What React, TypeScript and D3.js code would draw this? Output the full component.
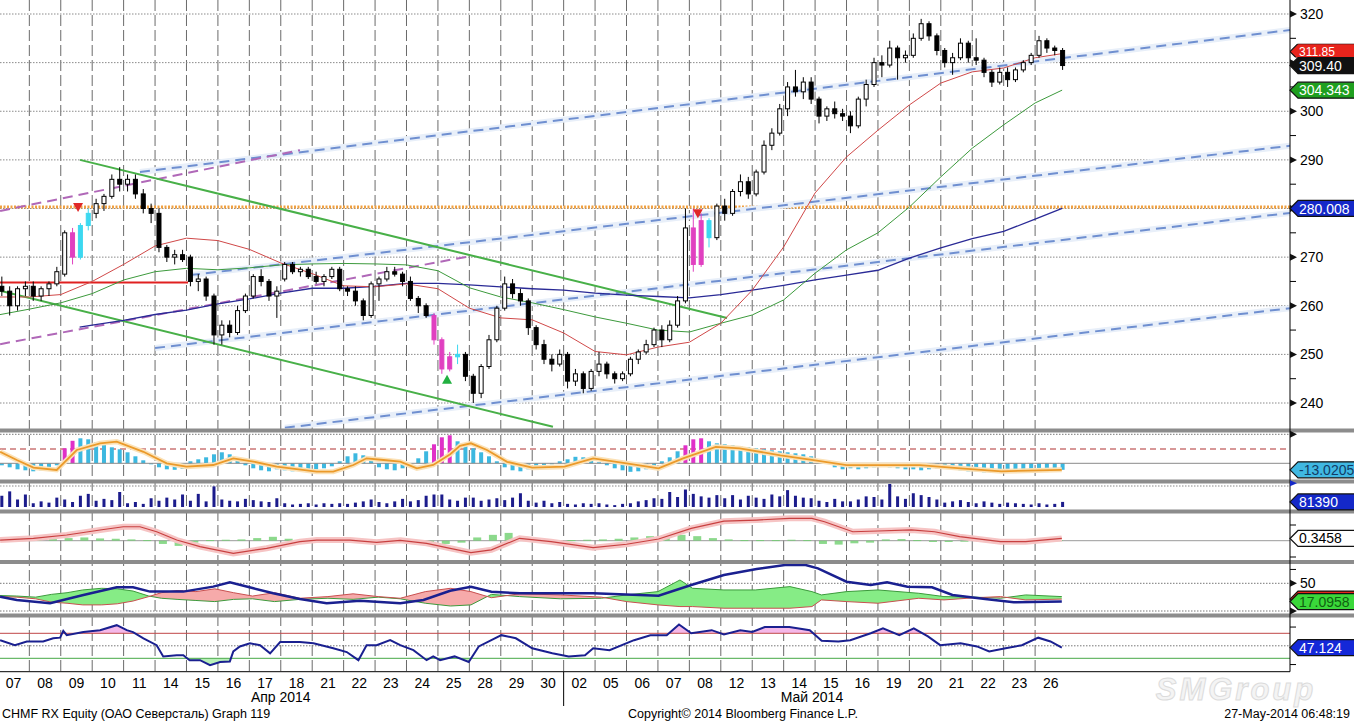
import React from "react";
import * as d3 from "d3";

const W = 1354;
const H = 723;
const AXIS_X = 1290;

// sessions on the x axis (one per trading day)
const dayLabels = ["07", "08", "09", "10", "11", "14", "15", "16", "17", "18", "21", "22", "23", "24", "25", "28", "29", "30",
  "02", "05", "06", "07", "08", "12", "13", "14", "15", "16", "19", "20", "21", "22", "23", "26"];
const monthLabels: [number, string][] = [[9, "Апр 2014"], [25.9, "Май 2014"]];
const monthBreak = 18;

// price candles, 4 per session: [open, high, low, close]
const candles: [number, number, number, number][] = [
  [264, 266, 262, 263], [263, 264, 258, 260], [260, 264, 259, 263.5], [263.5, 265, 262, 264],
  [264, 265, 261, 262], [262, 264, 261, 263.5], [263.5, 265, 262, 264.5], [264.5, 268, 264, 267],
  [266.5, 275.5, 266, 275], [275, 276, 268.5, 270], [270, 277, 269.5, 276.5], [276.5, 280, 275.5, 279],
  [279, 282, 278, 281], [281, 283, 279.5, 282.5], [282.5, 287, 282, 286], [286, 288.5, 283.5, 285],
  [285, 287, 283.5, 286], [286, 287, 282, 283], [283, 284, 279, 280], [280, 281, 277, 279],
  [279, 280, 271, 272], [272, 272.5, 269, 270], [270, 271.5, 268.5, 270.5], [270.5, 271.5, 269, 269.5],
  [270, 270.5, 264, 265], [265, 266.5, 263, 265.5], [265.5, 266, 261, 262], [262, 262.5, 252, 254],
  [254, 257, 252, 256], [256, 257, 253.5, 254.5], [254.5, 260, 254, 259], [259, 262.5, 258.5, 262],
  [262, 266.5, 261.5, 266], [266, 267.5, 264, 265], [265, 265.5, 261, 262], [262, 264, 257.5, 263],
  [265.5, 269, 265, 268.5], [268.5, 269, 266.5, 267], [267, 268, 266, 267.5], [267.5, 268, 265.5, 266],
  [266, 267, 264.5, 265], [265, 266.5, 264, 266], [266, 268, 265.5, 267.5], [267.5, 268, 263, 263.5],
  [263.5, 264, 262, 263], [263, 264, 260, 261], [261, 261.5, 257, 258], [258, 265, 257.5, 264.5],
  [264.5, 266, 261, 265.5], [265.5, 268, 265, 267], [267, 268, 266, 266.5], [266.5, 267, 264, 265],
  [265, 266, 261, 261.5], [261.5, 262, 258.5, 260], [260, 260.5, 257.5, 258], [258, 258.5, 252, 253],
  [253, 253.5, 246, 247], [247, 250.5, 246.5, 249.5], [249.5, 252, 248, 250], [250, 250.5, 244.5, 245.5],
  [245.5, 246, 240, 242], [242, 248, 241, 247.5], [247.5, 254, 247, 253], [253, 260, 252.5, 259.5],
  [259.5, 266, 259, 264.5], [264.5, 265.5, 261.5, 262.5], [262.5, 263.5, 260, 261], [261, 261.5, 254, 255.5],
  [255.5, 256, 251, 252], [252, 253, 248, 249], [249, 250, 246.5, 248], [248, 251, 247.5, 250],
  [250, 250.5, 243, 244.5], [244.5, 247, 243.5, 246], [246, 246.5, 242, 243], [243, 247, 242.5, 246.5],
  [246.5, 250.5, 245.5, 248], [248, 248.5, 245, 246], [246, 246.5, 244, 245], [245, 246.5, 244.5, 246],
  [246, 249.5, 245.5, 249], [249, 251, 248, 250.5], [250.5, 253, 250, 252], [252, 255.5, 251.5, 255],
  [255, 256, 251.5, 253], [253, 257, 252.5, 256], [256, 262, 255.5, 261], [261, 280, 260.5, 276],
  [276, 280, 267, 268.5], [268.5, 279, 268, 277.5], [277.5, 278, 272, 274], [274, 281, 273.5, 280.5],
  [280.5, 282, 277.5, 279], [279, 284, 278.5, 283.5], [283.5, 287, 282.5, 285.5], [285.5, 286.5, 282, 283],
  [283, 288, 282.5, 287.5], [287.5, 294, 287, 293], [293, 296.5, 292, 295.5], [295.5, 301.5, 295, 300.5],
  [300.5, 306, 299, 305], [305, 308.5, 303, 304], [304, 307, 302.5, 306], [306, 307, 301.5, 302.5],
  [302.5, 303, 297.5, 299], [299, 301, 298, 300.5], [300.5, 302, 298.5, 299.5], [299.5, 300.5, 298, 299],
  [299, 300, 295.5, 297], [297, 303, 296.5, 302.5], [302.5, 306.5, 301, 305.5], [305.5, 311, 305, 310],
  [310, 311.5, 307, 309.5], [309.5, 314.5, 309, 313], [313, 313.5, 306.5, 311], [311, 312.5, 310, 311.5],
  [311.5, 316, 311, 315], [315, 319, 314.5, 318], [318, 318.5, 314.5, 315.5], [315.5, 316, 311.5, 312.5],
  [312.5, 313, 309, 310], [310, 312, 307.5, 311], [311, 315, 310.5, 314], [314, 314.5, 310, 311],
  [311, 315, 309.5, 310.5], [310.5, 311, 307, 308], [308, 308.5, 305, 306], [306, 309, 305.5, 308],
  [308, 309, 305, 306.5], [306.5, 309, 306, 308.5], [308.5, 310.5, 308, 310], [310, 312, 309.5, 311.5],
  [311.5, 315.5, 311, 314.5], [314.5, 315, 312, 313], [313, 313.5, 311.5, 312.5], [312.5, 313, 308.5, 309.4],
];
const PER_DAY = 4;
const pinkCandles = [9, 55, 56, 57, 88, 89];
const cyanCandles = [10, 11, 58, 90];

// moving averages, [session position, price]
const maRed: [number, number][] = [[0, 261.8], [1, 261.8], [2, 262.3], [3, 265], [4, 268.5], [5, 272.3], [6, 273.9], [7, 273.4],
  [8, 271.6], [9, 268.8], [10, 266.6], [11, 264.1], [12, 263.9], [13, 264.5], [14, 263.5], [15, 259.5], [16, 257.5],
  [17, 257.1], [18, 254.4], [19, 250.6], [20, 249.9], [21, 251.5], [22, 252.5], [23, 256.4], [24, 263.2], [25, 272.1],
  [26, 283.2], [27, 290.6], [28, 296.1], [29, 301.3], [30, 305.8], [31, 308.1], [32, 308.9], [33, 311], [33.86, 311.85]];
const maGreen: [number, number][] = [[0, 258.1], [1, 259.3], [2, 260.6], [3, 262.5], [4, 265.3], [5, 267], [6, 267.7], [7, 267.4],
  [8, 267.8], [9, 268.4], [10, 268.6], [11, 268.7], [12, 268.6], [13, 268.4], [14, 267.2], [15, 263.7], [16, 261.8],
  [17, 260.6], [18, 259.2], [19, 257.7], [20, 256.4], [21, 255], [22, 254.6], [23, 256.4], [24, 258.1], [25, 261.2],
  [26, 266.7], [27, 271.5], [28, 275], [29, 280.3], [30, 286.5], [31, 292.4], [32, 297.2], [33, 301.7], [33.86, 304.343]];
const maBlue: [number, number][] = [[2.6, 255.6], [3, 256], [4, 257], [5, 258.2], [6, 259.1], [7, 260.4], [8, 261.4], [9, 262.6],
  [10, 263.6], [11, 263.6], [12, 264], [13, 264.6], [14, 264.6], [15, 264.3], [16, 263.9], [17, 263.5], [18, 263.2],
  [19, 262.6], [20, 262.2], [21, 261.9], [22, 261.6], [23, 262.3], [24, 263.2], [25, 264.2], [26, 265.3], [27, 266.3],
  [28, 267.3], [29, 269.8], [30, 271.9], [31, 273.8], [32, 275.3], [33, 277.8], [33.86, 280.008]];

// drawn trend lines, [session position, price] end points
const greenTrends: [number, number][][] = [[[2.61, 290.0], [23.2, 257.5]], [[0.07, 263.1], [17.66, 235.1]]];
const blueDashed: [number, number][][] = [
  [[4.52, 287.5], [41.11, 316.7]], [[6.11, 266.3], [41.11, 292.9]],
  [[5.0, 251.3], [41.11, 279.1]], [[9.13, 234.9], [41.11, 259.5]]];
const pinkDashed: [number, number][][] = [[[0.07, 279.5], [9.61, 292.0]], [[0.07, 252.1], [15.02, 270.2]]];
const supportLevel: [number, number, number] = [0, 6.05, 264.8];
const resistanceLevel = 280.3;
const sellMarks: [number, number][] = [[2.55, 279.3], [22.27, 278.0]];
const buyMarks: [number, number][] = [[14.29, 245.8]];

// last values shown on the price axis
const lastClose = 309.4;
const lastRed = 311.85;

// panel 1: oscillator histogram (4 per session) and its signal line
const macdHist = [
  -4, -8, -12, -14, -16, -14, -10, -4, 30, 45, 50, 48, 42, 38, 32, 28, 22, 14, 6, -2, -8, -12, -13, -11,
  4, 8, 12, 18, 22, 18, 8, -4, -10, -14, -16, -12, -14, -16, -15, -13, -12, -10, -6, 4, 14, 20, 16, 6,
  -8, -12, -14, -10, -6, 10, 24, 38, 52, 56, 44, 36, 30, 22, 14, 4, -8, -14, -16, -12, -10, -6, -2, 4,
  8, 13, 12, 6, 2, -4, -10, -14, -17, -16, -12, -6, 4, 12, 24, 36, 48, 50, 44, 40, 38, 36, 34, 32,
  30, 28, 26, 24, 22, 20, 18, 14, 8, 0, -8, -12, -10, -12, -10, -8, -6, -8, -10, -12, -12, -14, -12, -10,
  -10, -12, -14, -16, -16, -18, -19, -16, -18, -16, -14, -12, -12, -10, -14, -13.0205];
const magentaBars = [8, 9, 55, 56, 57, 87, 88, 89];
const macdSignal: [number, number][] = [[0.07, 23], [0.6, 6.6], [1.13, -8.7], [1.87, -13.4], [2.51, 26.6], [3.25, 40],
  [3.78, 43.3], [4.63, 23], [5.37, 0], [6.0, -6.7], [6.85, -3.4], [7.49, 10], [8.13, 3.4], [8.87, -6.7], [10.14, -16.7],
  [10.67, -16.7], [11.31, -3.4], [11.73, 10], [12.27, 6.6], [12.8, 3.4], [13.33, -10], [13.85, -3.4], [14.39, 18],
  [14.7, 35], [15.05, 40], [15.56, 26.6], [16.2, 3], [17.0, -8.7], [18.03, -6.7], [18.94, 10], [20.0, 0], [21.02, -10],
  [21.8, 10], [22.84, 33], [23.6, 30], [24.9, 16], [25.95, 6.4], [27.0, -3.5], [28.0, -3.5], [29.33, -3.5],
  [30.63, -10], [31.93, -16], [33.85, -13]];

// panel 2: volume in thousands (4 per session)
const volumeK = [
  180, 250, 120, 200, 60, 90, 70, 150, 120, 80, 180, 210, 100, 130, 110, 240, 60, 80, 50, 140, 100, 150, 120, 200,
  100, 210, 90, 330, 120, 100, 90, 130, 110, 90, 80, 140, 60, 40, 50, 60, 40, 60, 50, 60, 50, 70, 90, 120,
  80, 60, 90, 130, 90, 110, 180, 200, 200, 120, 100, 150, 150, 100, 120, 140, 110, 150, 220, 100, 70, 100, 60, 80,
  50, 40, 60, 50, 60, 40, 30, 50, 60, 90, 110, 140, 130, 240, 160, 280, 210, 170, 150, 190, 140, 190, 120, 180,
  150, 130, 200, 170, 270, 180, 150, 140, 100, 80, 130, 90, 90, 120, 170, 160, 120, 370, 170, 130, 220, 190, 160, 120,
  70, 90, 110, 80, 60, 90, 70, 50, 70, 60, 50, 40, 60, 40, 50, 81.39];

// panel 3: momentum line and its histogram (2 per session)
const momentum: [number, number][] = [[0.07, 0.1], [1.13, 0.37], [2.19, 0.88], [3.25, 1.65], [3.99, 2.15], [4.52, 2.15],
  [5.05, 1.38], [5.69, 0.1], [6.43, -0.92], [7.49, -1.95], [8.55, -1.17], [9.61, -0.15], [10.14, 0.1], [11.2, 0.1],
  [12.05, -0.25], [12.8, 0.06], [13.64, -0.4], [14.39, -1.17], [15.05, -1.84], [15.7, -1.4], [16.6, 0.37], [17.6, -0.15],
  [18.94, -1.07], [20.0, -0.55], [21.02, 0.26], [22.06, 1.9], [23.1, 3.0], [24.14, 3.18], [25.18, 3.44], [25.9, 3.44],
  [26.3, 2.92], [27.2, 1.38], [28.0, 1.49], [29.06, 1.65], [29.8, 1.38], [30.6, 0.62], [31.9, -0.15], [32.7, -0.15],
  [33.85, 0.3458]];
const momentumHist = [0.2, 0.15, 0.3, 0.25, 0.4, 0.5, 0.35, 0.3, 0.2, 0.1, -0.5, -0.8, -0.3, 0.1, 0.15, 0.2, 0.4, 0.6,
  0.3, 0.2, 0.15, 0.2, 0.2, 0.1, 0.15, 0.2, -0.2, -0.4, -0.5, -0.3, 0.5, 0.9, 1.2, 0.6, 0.2, 0.1, 0.1, 0.15, 0.2, 0.3,
  0.5, 0.7, 0.8, 0.9, 0.7, 0.4, 0.2, 0.1, 0.1, 0.1, 0.15, 0.1, -0.5, -0.6, -0.4, -0.3, 0.2, 0.25, 0.1, -0.2, -0.2, -0.1,
  0.05, 0.1, 0.05, 0.05, 0.1, 0.1];

// panel 4: directional movement
const dmiAt = [0, 0.6, 1.2, 1.7, 2.2, 2.7, 3.3, 3.8, 4.3, 4.8, 5.2, 5.7, 6.3, 6.9, 7.5, 8.1, 8.8, 9.6, 10.5, 11.3, 12.1,
  12.8, 13.6, 14.4, 15.05, 15.7, 16.6, 17.9, 19.2, 20.0, 21.0, 21.7, 22.1, 23.1, 24.1, 25.2, 25.9, 26.2, 27.0, 28.0,
  29.3, 30.1, 31.1, 31.9, 32.7, 33.85];
const diPlus = [28, 27, 25, 30, 33, 38, 41, 40, 36, 27, 23, 21, 19, 17, 21, 22, 17, 21, 23, 21, 25, 22, 14, 9, 11, 30,
  26, 22, 23, 29, 35, 56, 41, 38, 38, 44, 35, 29, 35, 38, 32, 26, 25, 23, 29, 26];
const diMinus = [26, 25, 22, 16, 14, 11, 11, 13, 18, 26, 33, 37, 35, 40, 33, 27, 33, 23, 26, 31, 26, 23, 35, 41, 35, 24,
  31, 29, 25, 17, 11, 8, 8, 5, 5, 5, 8, 20, 17, 14, 23, 20, 24, 26, 20, 21.5];
const adx: [number, number][] = [[0.07, 25.8], [0.6, 20], [1.66, 14], [2.72, 29], [3.78, 42.8], [4.3, 42.8], [4.84, 35],
  [5.9, 35], [6.85, 44], [7.38, 51.8], [8.13, 41], [8.76, 32], [9.61, 21.7], [10.46, 14], [11.52, 18.6], [12.8, 14],
  [13.54, 20], [14.39, 36.6], [15.05, 43.9], [15.7, 34.8], [16.6, 31.9], [18.94, 31.9], [21.02, 27.6], [22.06, 46.9],
  [23.1, 65], [24.14, 75.8], [25.04, 83], [25.7, 83], [26.09, 77], [27.0, 52.9], [27.77, 46.9], [28.29, 51.8],
  [28.94, 43.9], [29.72, 42.8], [30.37, 28.9], [31.41, 21.7], [32.32, 15.7], [33.85, 17.0958]];

// panel 5: RSI
const rsi: [number, number][] = [[0.07, 59], [0.54, 51], [0.92, 57], [1.44, 57], [1.76, 62], [1.98, 63], [2.08, 74],
  [2.19, 67], [2.72, 72], [3.25, 75], [3.78, 83], [4.1, 75], [4.3, 72], [4.63, 62], [5.05, 51], [5.26, 33], [5.69, 35],
  [5.9, 35], [6.1, 27], [6.43, 27], [6.75, 19], [7.07, 24], [7.38, 25], [7.49, 41], [7.7, 49], [8.02, 54], [8.34, 51],
  [8.66, 38], [8.98, 56], [9.61, 56], [10.04, 54], [10.67, 46], [11.1, 40], [11.47, 27], [11.73, 51], [12.05, 51],
  [12.48, 59], [12.8, 51], [13.22, 43], [13.64, 27], [13.85, 33], [14.07, 27], [14.53, 33], [14.98, 24], [15.3, 49],
  [16.02, 67], [16.48, 62], [17.0, 46], [17.64, 38], [18.16, 33], [18.68, 35], [18.94, 46], [19.46, 43], [20.24, 59],
  [20.76, 67], [21.28, 67], [21.67, 84], [22.06, 70], [22.71, 75], [23.1, 68], [23.62, 75], [24.0, 72], [24.4, 80],
  [25.18, 80], [25.83, 75], [26.21, 58], [26.74, 57], [27.12, 59], [27.77, 70], [28.16, 78], [28.68, 67], [29.14, 78],
  [29.59, 65], [29.98, 51], [30.63, 54], [31.15, 49], [31.54, 41], [32.06, 46], [32.58, 51], [33.1, 63], [33.49, 57],
  [33.85, 47.124]];

// price axis ticks; 310 and 280 sit under the value tags
const priceTicks = d3.range(240, 321, 10);
const hiddenTicks = [310, 280];
const minorPriceTicks = d3.range(245, 321, 10);

const FONT = "'Liberation Sans', Arial, sans-serif";

const x = d3.scaleLinear().domain([0, 41.11]).range([-2.1, AXIS_X]);
const yMain = d3.scaleLinear().domain([240, 320]).range([403, 14]);
const yMacd = d3.scaleLinear().domain([0, 50]).range([463.3, 438.3]);
const yVol = d3.scaleLinear().domain([0, 400]).range([507, 482]);
const yMom = d3.scaleLinear().domain([0, 2]).range([540.7, 527.7]);
const yDmi = d3.scaleLinear().domain([0, 50]).range([611, 583.3]);
const yRsi = d3.scaleLinear().domain([30, 70]).range([658.3, 633.3]);

const slot = (i: number, per: number) => x((i + 0.5) / per);

const panels = {
  main: [0, 428.5],
  macd: [432.5, 479.5],
  vol: [483.5, 509.5],
  mom: [513, 560],
  dmi: [564, 613.5],
  rsi: [617.5, 671.7],
};
const separators = [428.5, 479.5, 509.5, 560, 613.5];

function Tag({ y, text, fill, color, stroke, fontSize = 14 }: { y: number; text?: string; fill: string; color?: string; stroke?: string; fontSize?: number }) {
  const h = 16;
  const d = `M${AXIS_X},${y} L${AXIS_X + 8},${y - h / 2} L${W + 2},${y - h / 2} L${W + 2},${y + h / 2} L${AXIS_X + 8},${y + h / 2} Z`;
  return (
    <g>
      <path d={d} fill={fill} stroke={stroke || "#111"} strokeWidth={1.2} />
      {text && <text x={AXIS_X + 9} y={y} dy="0.36em" fontSize={fontSize} fill={color} fontFamily={FONT}>{text}</text>}
    </g>
  );
}

function Arrow({ y }: { y: number }) {
  return <path d={`M${AXIS_X},${y - 3.5} L${AXIS_X + 7},${y} L${AXIS_X},${y + 3.5} Z`} fill="#111" />;
}

export default function App() {
  const line = (sy: d3.ScaleLinear<number, number>) =>
    d3.line<[number, number]>().x((d) => x(d[0])).y((d) => sy(d[1]));
  const mainLine = line(yMain);

  const dmiRows = dmiAt.map((t, i) => ({ t, p: diPlus[i], m: diMinus[i] }));
  type Row = (typeof dmiRows)[number];
  const [dTop, dBot] = panels.dmi;
  const areaAboveMinus = d3.area<Row>().x((d) => x(d.t)).y0((d) => yDmi(d.m)).y1(dTop)(dmiRows) || "";
  const areaBelowPlus = d3.area<Row>().x((d) => x(d.t)).y0((d) => yDmi(d.p)).y1(dBot)(dmiRows) || "";
  const areaAbovePlus = d3.area<Row>().x((d) => x(d.t)).y0((d) => yDmi(d.p)).y1(dTop)(dmiRows) || "";
  const areaBelowMinus = d3.area<Row>().x((d) => x(d.t)).y0((d) => yDmi(d.m)).y1(dBot)(dmiRows) || "";

  const rsiArea = (level: number) =>
    d3.area<[number, number]>().x((d) => x(d[0])).y0(yRsi(level)).y1((d) => yRsi(d[1]))(rsi) || "";

  const clipRect = (id: string, [a, b]: number[]) => (
    <clipPath id={id} key={id}>
      <rect x={0} y={a} width={AXIS_X} height={b - a} />
    </clipPath>
  );

  const candleW = 4;
  const redTagY = yMain(lastRed) - 2;

  return (
    <svg width={W} height={H} style={{ position: "absolute", left: 0, top: 0, background: "#fff" }}>
      <defs>
        {Object.entries(panels).map(([k, v]) => clipRect("clip-" + k, v))}
        <clipPath id="clip-plus-below"><path d={areaBelowPlus} /></clipPath>
        <clipPath id="clip-minus-below"><path d={areaBelowMinus} /></clipPath>
        <clipPath id="clip-rsi-high"><rect x={0} y={panels.rsi[0]} width={AXIS_X} height={yRsi(70) - panels.rsi[0]} /></clipPath>
        <clipPath id="clip-rsi-low"><rect x={0} y={yRsi(30)} width={AXIS_X} height={panels.rsi[1] - yRsi(30)} /></clipPath>
        <clipPath id="clip-red-tag"><rect x={AXIS_X} y={redTagY - 8} width={W - AXIS_X} height={yMain(lastClose) - 8 - (redTagY - 8)} /></clipPath>
      </defs>
      <rect width={W} height={H} fill="#fff" />

      {/* grid */}
      <g>
        {d3.range(1, 34).map((k) => (
          <line key={k} x1={x(k)} x2={x(k)} y1={0} y2={panels.rsi[1]} stroke="#6a6a6a" strokeDasharray="11,4" strokeWidth={1} />
        ))}
        {priceTicks.map((v) => (
          <line key={v} x1={0} x2={AXIS_X} y1={yMain(v)} y2={yMain(v)} stroke="#8a8a8a" strokeDasharray="1.5,1.5" />
        ))}
      </g>

      {/* main price panel */}
      <g clipPath="url(#clip-main)">
        <line x1={0} x2={AXIS_X} y1={yMain(resistanceLevel)} y2={yMain(resistanceLevel)} stroke="#f0a040" strokeWidth={3} strokeDasharray="2,1.5" />
        {blueDashed.map((l, i) => (
          <g key={i}>
            <path d={mainLine(l) || ""} stroke="#e8eff9" strokeWidth={6} fill="none" />
            <path d={mainLine(l) || ""} stroke="#6f8fd0" strokeWidth={2} strokeDasharray="10,6" fill="none" />
          </g>
        ))}
        {pinkDashed.map((l, i) => (
          <path key={i} d={mainLine(l) || ""} stroke="#b068b8" strokeWidth={2} strokeDasharray="10,6" fill="none" />
        ))}
        {greenTrends.map((l, i) => (
          <path key={i} d={mainLine(l) || ""} stroke="#48b048" strokeWidth={2} fill="none" />
        ))}
        <line x1={x(supportLevel[0])} x2={x(supportLevel[1])} y1={yMain(supportLevel[2])} y2={yMain(supportLevel[2])} stroke="#e02020" strokeWidth={2} />
        <path d={mainLine(maBlue) || ""} stroke="#2a2a96" strokeWidth={1.3} fill="none" />
        <path d={mainLine(maGreen) || ""} stroke="#3c9a3c" strokeWidth={1} fill="none" />
        <path d={mainLine(maRed) || ""} stroke="#d04848" strokeWidth={1} fill="none" />
        {candles.map(([o, h, l, c], i) => {
          const cx = slot(i, PER_DAY);
          const hi = pinkCandles.includes(i) ? "#e040c0" : cyanCandles.includes(i) ? "#3cd8f0" : null;
          const up = c >= o;
          const top = yMain(Math.max(o, c));
          const bh = Math.max(1, Math.abs(yMain(o) - yMain(c)));
          const col = hi || "#000";
          return (
            <g key={i}>
              <line x1={cx} x2={cx} y1={yMain(h)} y2={yMain(l)} stroke={col} strokeWidth={1} />
              <rect x={cx - candleW / 2} y={top} width={candleW} height={bh}
                fill={hi ? hi : up ? "#fff" : "#000"} stroke={col} strokeWidth={1} />
            </g>
          );
        })}
        {sellMarks.map(([t, p], i) => (
          <path key={i} d={`M${x(t) - 5},${yMain(p) - 9} L${x(t) + 5},${yMain(p) - 9} L${x(t)},${yMain(p)} Z`} fill="#e02828" />
        ))}
        {buyMarks.map(([t, p], i) => (
          <path key={i} d={`M${x(t) - 5},${yMain(p) + 9} L${x(t) + 5},${yMain(p) + 9} L${x(t)},${yMain(p)} Z`} fill="#22b040" />
        ))}
      </g>

      {/* panel 1 */}
      <g clipPath="url(#clip-macd)">
        <line x1={0} x2={AXIS_X} y1={yMacd(58)} y2={yMacd(58)} stroke="#777" strokeDasharray="1.5,1.5" />
        <line x1={0} x2={AXIS_X} y1={yMacd(28.6)} y2={yMacd(28.6)} stroke="#b03030" strokeDasharray="6,4" />
        {macdHist.map((v, i) => (
          <rect key={i} x={slot(i, PER_DAY) - 2} width={4} y={Math.min(yMacd(v), yMacd(0))}
            height={Math.abs(yMacd(v) - yMacd(0))} fill={magentaBars.includes(i) ? "#e030c8" : "#3cb8e0"} />
        ))}
        <line x1={0} x2={AXIS_X} y1={yMacd(0)} y2={yMacd(0)} stroke="#8a8a8a" />
        <path d={line(yMacd)(macdSignal) || ""} stroke="#fbe2b8" strokeWidth={5} fill="none" />
        <path d={line(yMacd)(macdSignal) || ""} stroke="#eb9a2a" strokeWidth={1.8} fill="none" />
      </g>

      {/* panel 2 volume */}
      <g clipPath="url(#clip-vol)">
        <line x1={0} x2={AXIS_X} y1={486} y2={486} stroke="#888" strokeDasharray="1.5,1.5" />
        {volumeK.map((v, i) => (
          <rect key={i} x={slot(i, PER_DAY) - 1.5} width={3} y={yVol(v)} height={yVol(0) - yVol(v)} fill="#1c1c8c" />
        ))}
      </g>

      {/* panel 3 momentum */}
      <g clipPath="url(#clip-mom)">
        <line x1={0} x2={AXIS_X} y1={yMom(0)} y2={yMom(0)} stroke="#9a9a9a" />
        {momentumHist.map((v, i) => (
          <rect key={i} x={slot(i, 2) - 4} width={8} y={Math.min(yMom(v), yMom(0))}
            height={Math.max(1, Math.abs(yMom(v) - yMom(0)))} fill="#6fd06f" opacity={0.8} />
        ))}
        <path d={line(yMom)(momentum) || ""} stroke="#f6c4c4" strokeWidth={6} fill="none" />
        <path d={line(yMom)(momentum) || ""} stroke="#c84040" strokeWidth={1.2} fill="none" />
      </g>

      {/* panel 4 directional movement */}
      <g clipPath="url(#clip-dmi)">
        <line x1={0} x2={AXIS_X} y1={yDmi(50)} y2={yDmi(50)} stroke="#777" strokeDasharray="1.5,1.5" />
        <line x1={0} x2={AXIS_X} y1={yDmi(0)} y2={yDmi(0)} stroke="#777" strokeDasharray="1.5,1.5" />
        <path d={areaAboveMinus} fill="#86ec86" clipPath="url(#clip-plus-below)" />
        <path d={areaAbovePlus} fill="#f6aaaa" clipPath="url(#clip-minus-below)" />
        <path d={line(yDmi)(dmiAt.map((t, i) => [t, diPlus[i]] as [number, number])) || ""} stroke="#3c9a3c" strokeWidth={1} fill="none" />
        <path d={line(yDmi)(dmiAt.map((t, i) => [t, diMinus[i]] as [number, number])) || ""} stroke="#c85050" strokeWidth={1} fill="none" />
        <path d={line(yDmi)(adx) || ""} stroke="#1a2090" strokeWidth={2.5} fill="none" />
      </g>

      {/* panel 5 RSI */}
      <g clipPath="url(#clip-rsi)">
        <path d={rsiArea(70)} fill="#f4b8e8" clipPath="url(#clip-rsi-high)" />
        <path d={rsiArea(30)} fill="#b8f0b8" clipPath="url(#clip-rsi-low)" />
        <line x1={0} x2={AXIS_X} y1={yRsi(70)} y2={yRsi(70)} stroke="#c04848" />
        <line x1={0} x2={AXIS_X} y1={yRsi(50)} y2={yRsi(50)} stroke="#777" strokeDasharray="1.5,1.5" />
        <line x1={0} x2={AXIS_X} y1={yRsi(30)} y2={yRsi(30)} stroke="#48a848" />
        <path d={line(yRsi)(rsi) || ""} stroke="#1a2090" strokeWidth={2} fill="none" />
      </g>

      {/* separators */}
      {separators.map((s) => (
        <rect key={s} x={0} y={s} width={W} height={4} fill="#8c8c8c" />
      ))}

      {/* price axis */}
      <line x1={AXIS_X} x2={AXIS_X} y1={0} y2={panels.rsi[1]} stroke="#000" />
      {minorPriceTicks.map((v) => (
        <line key={v} x1={AXIS_X} x2={AXIS_X + 6} y1={yMain(v)} y2={yMain(v)} stroke="#000" />
      ))}
      {priceTicks.map((v) => (
        <g key={v}>
          <Arrow y={yMain(v)} />
          {!hiddenTicks.includes(v) && (
            <text x={AXIS_X + 10} y={yMain(v)} dy="0.36em" fontSize={14} fontFamily={FONT} fill="#000">{v}</text>
          )}
        </g>
      ))}
      <g clipPath="url(#clip-red-tag)">
        <Tag y={redTagY} text={lastRed.toFixed(2)} fill="#e8241c" color="#fff" fontSize={12} />
      </g>
      <Tag y={yMain(lastClose)} text={lastClose.toFixed(2)} fill="#111" color="#fff" />
      <Tag y={yMain(maGreen[maGreen.length - 1][1])} text={maGreen[maGreen.length - 1][1].toFixed(3)} fill="#1f9f1f" color="#fff" />
      <Tag y={yMain(maBlue[maBlue.length - 1][1])} text={maBlue[maBlue.length - 1][1].toFixed(3)} fill="#1428c8" color="#fff" />

      {/* indicator axis marks */}
      <Arrow y={yMacd(58)} />
      <Tag y={yMacd(macdHist[macdHist.length - 1])} text={macdHist[macdHist.length - 1].toFixed(4)} fill="#40b8e2" color="#123c66" />
      <path d={`M${AXIS_X},${yVol(380) - 3} L${AXIS_X + 7},${yVol(380)} L${AXIS_X},${yVol(380) + 3} Z`} fill="#1428c8" />
      <Tag y={yVol(volumeK[volumeK.length - 1])} text={String(Math.round(volumeK[volumeK.length - 1] * 1000))} fill="#1428c8" color="#fff" />
      <line x1={AXIS_X} x2={AXIS_X + 6} y1={525} y2={525} stroke="#000" />
      <line x1={AXIS_X} x2={AXIS_X + 6} y1={557} y2={557} stroke="#000" />
      <Tag y={yMom(momentum[momentum.length - 1][1])} text={momentum[momentum.length - 1][1].toFixed(4)} fill="#fff" color="#000" />
      <line x1={AXIS_X} x2={AXIS_X + 6} y1={yDmi(75)} y2={yDmi(75)} stroke="#000" />
      <Arrow y={yDmi(50)} />
      <text x={AXIS_X + 10} y={yDmi(50)} dy="0.36em" fontSize={14} fontFamily={FONT} fill="#000">50</text>
      <Arrow y={yDmi(0)} />
      <Tag y={yDmi(diMinus[diMinus.length - 1])} fill="#e8241c" />
      <Tag y={yDmi(adx[adx.length - 1][1])} text={adx[adx.length - 1][1].toFixed(4)} fill="#3ad83a" color="#106010" />
      <line x1={AXIS_X} x2={AXIS_X + 6} y1={yRsi(80)} y2={yRsi(80)} stroke="#000" />
      <line x1={AXIS_X} x2={AXIS_X + 6} y1={yRsi(20)} y2={yRsi(20)} stroke="#000" />
      <Tag y={yRsi(rsi[rsi.length - 1][1])} text={rsi[rsi.length - 1][1].toFixed(3)} fill="#1428d8" color="#fff" />

      {/* time axis */}
      <line x1={0} x2={AXIS_X} y1={panels.rsi[1]} y2={panels.rsi[1]} stroke="#000" />
      <line x1={x(monthBreak)} x2={x(monthBreak)} y1={panels.rsi[1]} y2={706} stroke="#000" />
      {dayLabels.map((d, i) => (
        <text key={i} x={x(i + 0.5)} y={688} textAnchor="middle" fontSize={14} fontFamily={FONT} fill="#000">{d}</text>
      ))}
      {monthLabels.map(([t, s]) => (
        <text key={s} x={x(t)} y={702} textAnchor="middle" fontSize={14} fontFamily={FONT} fill="#000">{s}</text>
      ))}

      {/* footer */}
      <text x={1236} y={700} textAnchor="middle" fontSize={31} fontStyle="italic" fontWeight="bold" fontFamily={FONT}
        fill="#f4f4f4" stroke="#dcdcdc" strokeWidth={1} letterSpacing={3}>SMGroup</text>
      <text x={2} y={718} fontSize={12.5} fontFamily={FONT} fill="#000">CHMF RX Equity (ОАО Северсталь) Graph 119</text>
      <text x={743} y={718} textAnchor="middle" fontSize={12.5} fontFamily={FONT} fill="#000">Copyright© 2014 Bloomberg Finance L.P.</text>
      <text x={1350} y={718} textAnchor="end" fontSize={12.5} fontFamily={FONT} fill="#000">27-May-2014 06:48:19</text>
    </svg>
  );
}
